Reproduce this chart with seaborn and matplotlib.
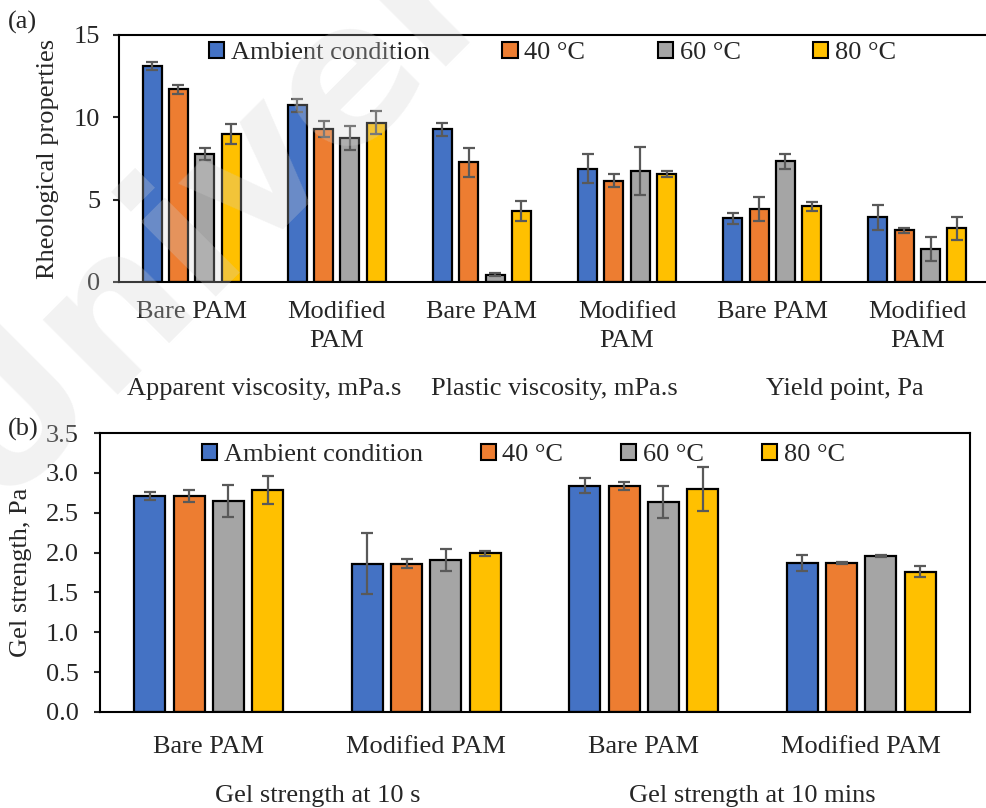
import numpy as np
import pandas as pd
import matplotlib
matplotlib.use("Agg")
import matplotlib.pyplot as plt
import seaborn as sns
from matplotlib.patches import Patch
from matplotlib.transforms import blended_transform_factory

# ---------------- data ----------------
series = ["Ambient condition", "40 °C", "60 °C", "80 °C"]
colors = ["#4472C4", "#ED7D31", "#A5A5A5", "#FFC000"]

# panel (a)
a_groups = ["AV-Bare", "AV-Mod", "PV-Bare", "PV-Mod", "YP-Bare", "YP-Mod"]
a_ticklabels = ["Bare PAM", "Modified\nPAM", "Bare PAM", "Modified\nPAM", "Bare PAM", "Modified\nPAM"]
a_categories = ["Apparent viscosity, mPa.s", "Plastic viscosity, mPa.s", "Yield point, Pa"]
a_ambient = [13.12, 10.73, 9.28, 6.89, 3.86, 3.92]
a_40 = [11.70, 9.28, 7.26, 6.15, 4.45, 3.13]
a_60 = [7.78, 8.75, 0.44, 6.73, 7.32, 2.00]
a_80 = [8.98, 9.68, 4.31, 6.55, 4.59, 3.25]
a_ambient_err = [0.25, 0.40, 0.40, 0.89, 0.34, 0.76]
a_40_err = [0.27, 0.50, 0.90, 0.40, 0.72, 0.14]
a_60_err = [0.36, 0.75, 0.10, 1.45, 0.45, 0.74]
a_80_err = [0.62, 0.70, 0.63, 0.19, 0.25, 0.68]
a_yticks = [0, 5, 10, 15]

# panel (b)
b_groups = ["10s-Bare", "10s-Mod", "10m-Bare", "10m-Mod"]
b_ticklabels = ["Bare PAM", "Modified PAM", "Bare PAM", "Modified PAM"]
b_categories = ["Gel strength at 10 s", "Gel strength at 10 mins"]
b_ambient = [2.71, 1.86, 2.84, 1.87]
b_40 = [2.71, 1.86, 2.84, 1.87]
b_60 = [2.645, 1.91, 2.63, 1.96]
b_80 = [2.79, 1.99, 2.80, 1.76]
b_ambient_err = [0.055, 0.385, 0.096, 0.10]
b_40_err = [0.07, 0.055, 0.05, 0.008]
b_60_err = [0.20, 0.14, 0.20, 0.015]
b_80_err = [0.175, 0.03, 0.275, 0.07]
b_yticks = [0.0, 0.5, 1.0, 1.5, 2.0, 2.5, 3.0, 3.5]

# ---------------- style ----------------
sns.set_style("white")
plt.rcParams["font.family"] = ["Liberation Serif", "DejaVu Serif"]

W, H = 987, 808
fig = plt.figure(figsize=(W / 100, H / 100), dpi=100)

FS = 19


def px_ax(left, top, right, bottom):
    return fig.add_axes([left / W, 1 - bottom / H, (right - left) / W, (bottom - top) / H])


def draw_panel(ax, groups, vals, errs, gap):
    rows = []
    for s, v in zip(series, vals):
        for g, val in zip(groups, v):
            rows.append({"group": g, "series": s, "value": val})
    df = pd.DataFrame(rows)
    sns.barplot(data=df, x="group", y="value", hue="series", order=groups,
                hue_order=series, palette=colors, saturation=1, width=0.726,
                gap=gap, edgecolor="black", linewidth=1.6, errorbar=None,
                legend=False, ax=ax, zorder=2)
    for cont, err in zip(ax.containers, errs):
        xs = [b.get_x() + b.get_width() / 2 for b in cont]
        hs = [b.get_height() for b in cont]
        ax.errorbar(xs, hs, yerr=err, fmt="none", ecolor="#595959",
                    elinewidth=1.6, capsize=4, capthick=1.6, zorder=3)


def style_axes(ax, ytick_pad, xtick_pad):
    for sp in ["left", "bottom", "top", "right"]:
        ax.spines[sp].set_linewidth(1.5)
        ax.spines[sp].set_color("black")
    ax.tick_params(axis="y", direction="out", length=4.5, width=1.5,
                   labelsize=FS, pad=ytick_pad, left=True)
    ax.tick_params(axis="x", length=0, labelsize=FS, pad=xtick_pad)
    ax.set_xlabel("")


def legend(ax, x_px, y_px, colspace):
    handles = [Patch(facecolor=c, edgecolor="black", linewidth=1.5) for c in colors]
    ax.legend(handles, series, ncol=4, loc="center left",
              bbox_to_anchor=(x_px / W, 1 - y_px / H),
              bbox_transform=fig.transFigure, frameon=False, fontsize=FS,
              handlelength=0.57, handleheight=0.57, handletextpad=0.25,
              columnspacing=colspace, borderpad=0, borderaxespad=0)


# ---------------- panel (a) ----------------
axa = px_ax(119, 35, 990, 282)
draw_panel(axa, a_groups,
           [a_ambient, a_40, a_60, a_80],
           [a_ambient_err, a_40_err, a_60_err, a_80_err], gap=0.28)
axa.set_ylim(0, 15)
axa.set_xlim(-0.5, 5.5)
axa.set_yticks(a_yticks)
axa.set_yticklabels([str(t) for t in a_yticks])
axa.set_xticks(range(len(a_groups)))
axa.set_xticklabels(a_ticklabels, linespacing=1.4)
style_axes(axa, ytick_pad=9, xtick_pad=14)
axa.spines["right"].set_visible(False)
axa.set_ylabel("Rheological properties", fontsize=FS)
axa.yaxis.set_label_coords((59 - 119) / 871, 0.5)
legend(axa, 209, 53, 2.76)
tra = blended_transform_factory(axa.transData, fig.transFigure)
for i, lab in enumerate(a_categories):
    axa.text(2 * i + 0.5, 1 - 395 / H, lab, transform=tra, ha="center",
             va="baseline", fontsize=FS)

# ---------------- panel (b) ----------------
axb = px_ax(100, 433, 970, 712)
draw_panel(axb, b_groups,
           [b_ambient, b_40, b_60, b_80],
           [b_ambient_err, b_40_err, b_60_err, b_80_err], gap=0.215)
axb.set_ylim(0, 3.5)
axb.set_xlim(-0.5, 3.5)
axb.set_yticks(b_yticks)
axb.set_yticklabels([f"{t:.1f}" for t in b_yticks])
axb.set_xticks(range(len(b_groups)))
axb.set_xticklabels(b_ticklabels)
style_axes(axb, ytick_pad=11, xtick_pad=17)
axb.set_ylabel("Gel strength, Pa", fontsize=FS)
axb.yaxis.set_label_coords((32 - 100) / 870, 0.5)
legend(axb, 202, 455, 2.2)
trb = blended_transform_factory(axb.transData, fig.transFigure)
for i, lab in enumerate(b_categories):
    axb.text(2 * i + 0.5, 1 - 802 / H, lab, transform=trb, ha="center",
             va="baseline", fontsize=FS)

# panel letters
fig.text(8 / W, 1 - 22 / H, "(a)", fontsize=FS, ha="left", va="center")
fig.text(8 / W, 1 - 429 / H, "(b)", fontsize=FS, ha="left", va="center")

# very faint watermark
fig.text(-10 / W, 1 - 505 / H, "Universiti", fontsize=140, fontweight="bold",
         family="DejaVu Sans", color="#d0d0d0", alpha=0.28, rotation=45,
         rotation_mode="anchor", ha="left", va="baseline", zorder=10)

fig.savefig("out.png", dpi=100)
